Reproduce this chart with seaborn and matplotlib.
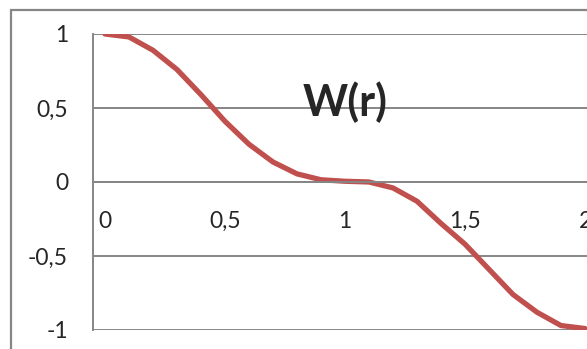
import numpy as np
import pandas as pd
import matplotlib.pyplot as plt
from matplotlib.patches import Rectangle
import seaborn as sns

# values
r_values = [0.0, 0.1, 0.2, 0.3, 0.4, 0.5, 0.6, 0.7, 0.8, 0.9, 1.0,
            1.1, 1.2, 1.3, 1.4, 1.5, 1.6, 1.7, 1.8, 1.9, 2.0]
w_values = [1.0, 0.98, 0.89, 0.76, 0.59, 0.41, 0.255, 0.135, 0.055, 0.015, 0.005,
            0.0, -0.04, -0.13, -0.28, -0.42, -0.59, -0.76, -0.88, -0.97, -0.99]
x_labels = ["0", "0,5", "1", "1,5", "2"]
y_ticks = [-1, -0.5, 0, 0.5, 1]
y_labels = ["-1", "-0,5", "0", "0,5", "1"]

data = pd.DataFrame({"r": r_values, "W": w_values})

sns.set_style("white")
plt.rcParams["font.family"] = ["Lato", "DejaVu Sans"]

grey = "#868686"
fig = plt.figure(figsize=(5.87, 3.49), dpi=100)
ax = fig.add_axes([93 / 587, 19 / 349, 504 / 587, 296 / 349])

sns.lineplot(x="r", y="W", data=data, ax=ax, color="#C0504D", linewidth=3.8)

ax.set_xlim(-0.05, 2.05)
ax.set_ylim(-1, 1)
ax.set_xlabel("")
ax.set_ylabel("")

# y axis
ax.set_yticks(y_ticks)
ax.set_yticklabels(y_labels, fontsize=16.5)
ax.tick_params(axis="y", direction="out", length=6, width=1.4, color=grey, pad=12)
ax.yaxis.grid(True, color=grey, linewidth=1.4)

# x axis through zero, ticks between categories
ax.spines["bottom"].set_position(("data", 0))
ax.set_xticks(np.arange(-0.05, 2.06, 0.1))
ax.set_xticklabels([])
ax.set_xticks([0, 0.5, 1, 1.5, 2], minor=True)
ax.set_xticklabels(x_labels, minor=True, fontsize=16.5)
ax.tick_params(axis="x", which="major", direction="out", length=5, width=1.4, color=grey)
ax.tick_params(axis="x", which="minor", length=0, pad=21)

for side in ["top", "right"]:
    ax.spines[side].set_visible(False)
for side in ["left", "bottom"]:
    ax.spines[side].set_color(grey)
    ax.spines[side].set_linewidth(1.4)

ax.text(1.0, 0.54, "W(r)", fontsize=31, fontweight="bold", ha="center", va="center")

# chart area border
fig.add_artist(Rectangle((11 / 587, -0.2), 1.2, 0.2 + 339 / 349, transform=fig.transFigure,
                         fill=False, edgecolor=grey, linewidth=1.6))

plt.savefig("out.png", dpi=100)
